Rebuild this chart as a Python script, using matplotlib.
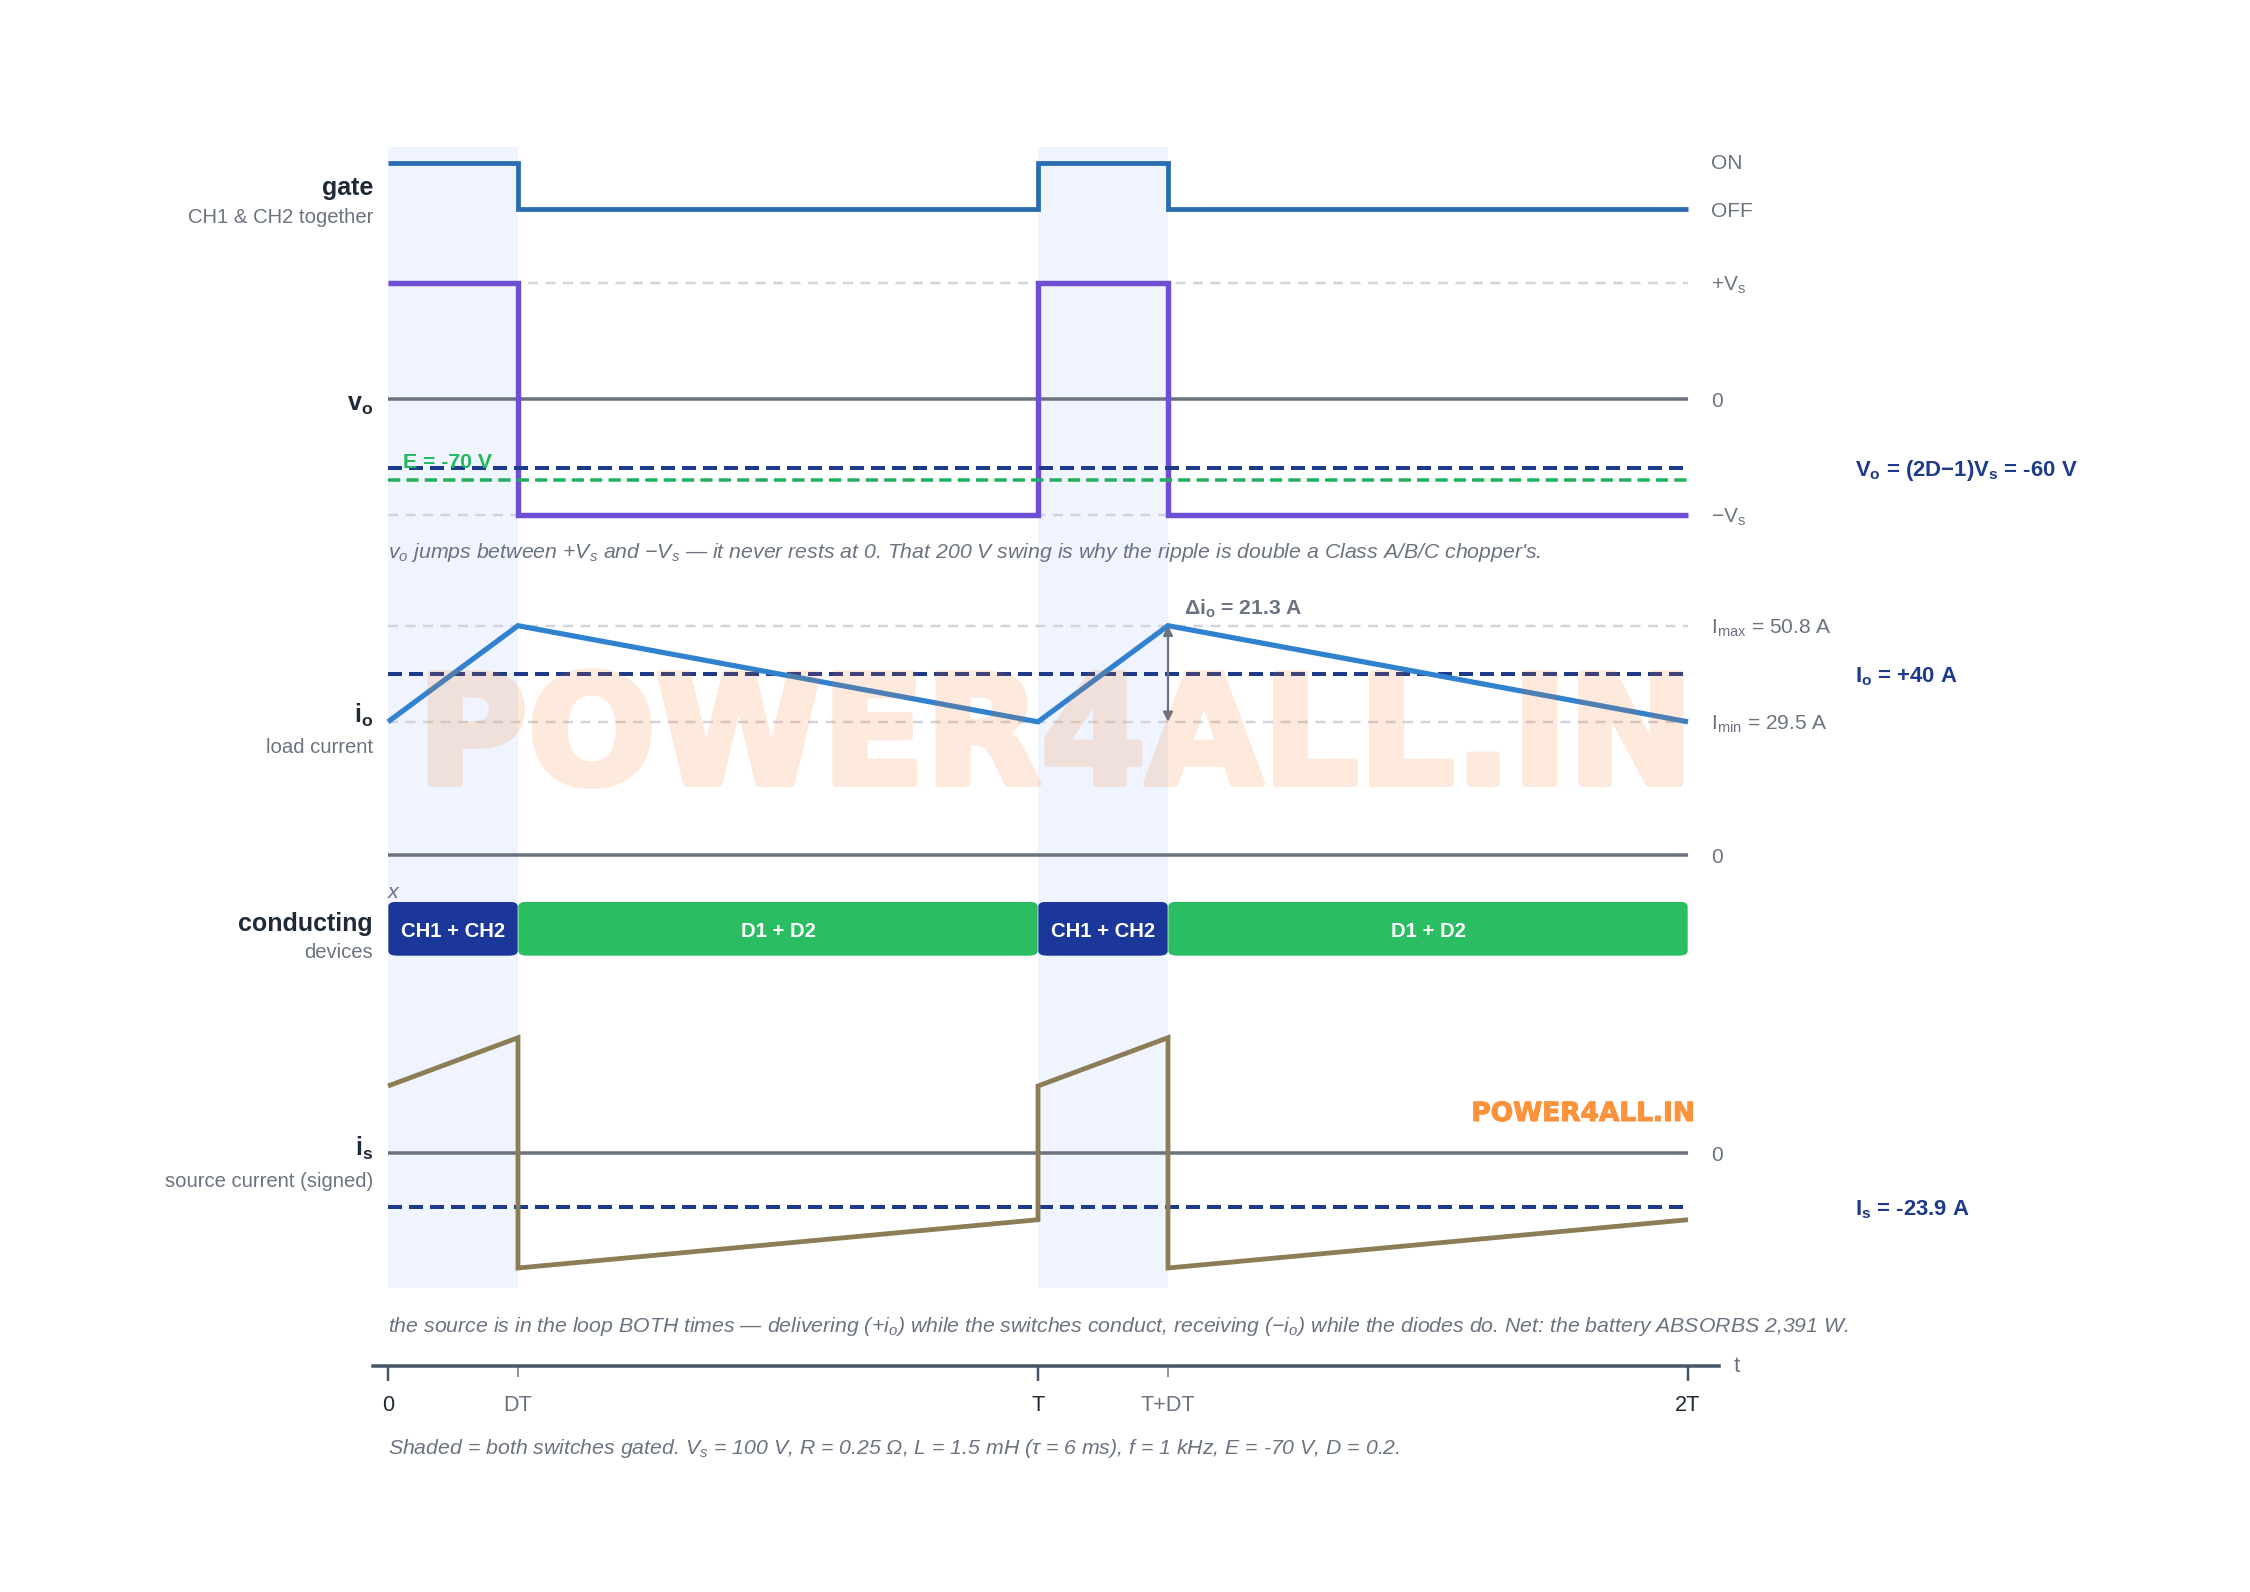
import matplotlib
matplotlib.use('Agg')
import matplotlib.pyplot as plt
import matplotlib.patheffects as pe
from matplotlib.patches import FancyBboxPatch
from matplotlib.transforms import blended_transform_factory, ScaledTranslation

plt.rcParams['font.family'] = ['Liberation Sans', 'DejaVu Sans']
plt.rcParams['mathtext.fontset'] = 'custom'
plt.rcParams['mathtext.default'] = 'regular'

# waveform data, time in units of T
t_edges = [0, 0.2, 0.2, 1, 1, 1.2, 1.2, 2]
gate = [1, 1, 0, 0, 1, 1, 0, 0]
v_o = [100, 100, -100, -100, 100, 100, -100, -100]
t_ramp = [0, 0.2, 1, 1.2, 2]
i_o = [29.5, 50.8, 29.5, 50.8, 29.5]
i_s = [29.5, 50.8, -50.8, -29.5, 29.5, 50.8, -50.8, -29.5]
shade_spans = [(0, 0.2), (1, 1.2)]
V_avg = -60
E_batt = -70
I_o_avg = 40
I_max = 50.8
I_min = 29.5
I_s_avg = -23.9
dev_start = [0, 0.2, 1, 1.2]
dev_end = [0.2, 1, 1.2, 2]
dev_names = ['CH1 + CH2', 'D1 + D2', 'CH1 + CH2', 'D1 + D2']
major_pos = [0, 1, 2]
major_labels = ['0', 'T', '2T']
minor_pos = [0.2, 1.2]
minor_labels = ['DT', 'T+DT']

W, H = 2250, 1592
GREY = '#6b7280'
LIGHT = '#d1d5db'
NAVY = '#1e3a8a'
INK = '#1f2937'
PX = 0.72  # points per pixel at dpi 100
DASH = (3.5, 1.75)
LIGHT_DASH = (4, 3)

fig = plt.figure(figsize=(W / 100, H / 100), dpi=100, facecolor='white')


def panel(top, bottom, ylim, left=388, right=1688, xlim=(0, 2)):
    ax = fig.add_axes([left / W, 1 - bottom / H, (right - left) / W, (bottom - top) / H])
    ax.set_xlim(xlim)
    ax.set_ylim(ylim)
    ax.axis('off')
    return ax


def ftext(x, y, s, **kw):
    kw.setdefault('va', 'center')
    return fig.text(x / W, 1 - y / H, s, **kw)


def side(ax, x, y, s, **kw):
    tr = blended_transform_factory(fig.transFigure, ax.transData)
    tr = tr + ScaledTranslation(0, -2.5 / 100, fig.dpi_scale_trans)
    kw.setdefault('va', 'center')
    return ax.text(x / W, y, s, transform=tr, clip_on=False, **kw)


def wave(ax, x, y, color, lw=4.8, z=3):
    ax.plot(x, y, color=color, lw=lw * PX, solid_capstyle='butt', solid_joinstyle='miter',
            clip_on=False, zorder=z)


def hline(ax, y, color, lw=4, dashed=True, z=2, dash=DASH):
    line, = ax.plot([0, 2], [y, y], color=color, lw=lw * PX, clip_on=False, zorder=z)
    if dashed:
        line.set_linestyle((0, dash))
        line.set_dash_capstyle('butt')
    else:
        line.set_solid_capstyle('butt')


# shaded gate-on windows
ax_bg = panel(147.3, 1288, (0, 1))
for a, b in shade_spans:
    ax_bg.axvspan(a, b, color='#eff4fe', lw=0)

# gate
ax_gate = panel(162.7, 209, (0, 1))
wave(ax_gate, t_edges, gate, '#2b6cb0')
side(ax_gate, 1711, 1.03, 'ON', color=GREY, fontsize=15)
side(ax_gate, 1711, 0, 'OFF', color=GREY, fontsize=15)

# output voltage
ax_vo = panel(282.7, 514.7, (-100, 100))
hline(ax_vo, 100, LIGHT, lw=2.5, dash=LIGHT_DASH, z=1)
hline(ax_vo, -100, LIGHT, lw=2.5, dash=LIGHT_DASH, z=1)
hline(ax_vo, 0, GREY, lw=3.5, dashed=False, z=1)
wave(ax_vo, t_edges, v_o, '#6f4ed6', lw=5.4)
hline(ax_vo, V_avg, NAVY, z=4)
hline(ax_vo, E_batt, '#22b05e', lw=3.5, z=4)
ax_vo.text(0.0231, -55, 'E = -70 V', color='#22b85c', fontsize=15.3, fontweight='bold', va='center', zorder=5)
side(ax_vo, 1711, 100, '+$V_s$', color=GREY, fontsize=15)
side(ax_vo, 1711, 0, '0', color=GREY, fontsize=15)
side(ax_vo, 1711, -100, '−$V_s$', color=GREY, fontsize=15)
side(ax_vo, 1855, V_avg, '$V_o$ = (2D−1)$V_s$ = -60 V', color=NAVY, fontsize=15.9, fontweight='bold')

# load current
ax_io = panel(625.7, 855, (0, 50.8))
hline(ax_io, I_max, LIGHT, lw=2.5, dash=LIGHT_DASH, z=1)
hline(ax_io, I_min, LIGHT, lw=2.5, dash=LIGHT_DASH, z=1)
hline(ax_io, 0, GREY, lw=3.5, dashed=False, z=1)
hline(ax_io, I_o_avg, NAVY, z=2)
wave(ax_io, t_ramp, i_o, '#3182ce', lw=5.2)
ax_io.annotate('', xy=(1.2, I_max), xytext=(1.2, I_min), zorder=5, annotation_clip=False,
               arrowprops=dict(arrowstyle='<|-|>', color=GREY, lw=1.6, shrinkA=0, shrinkB=0, mutation_scale=14))
side(ax_io, 1184, 55, 'Δ$i_o$ = 21.3 A', color=GREY, fontsize=15.2, fontweight='bold')
side(ax_io, 1711, I_max, '$I_{max}$ = 50.8 A', color=GREY, fontsize=15.1)
side(ax_io, 1711, I_min, '$I_{min}$ = 29.5 A', color=GREY, fontsize=15.1)
side(ax_io, 1711, 0, '0', color=GREY, fontsize=15)
side(ax_io, 1855, I_o_avg, '$I_o$ = +40 A', color=NAVY, fontsize=15.9, fontweight='bold')

# conducting devices
ax_dev = panel(901.7, 955.7, (0, 1))
for a, b, name in zip(dev_start, dev_end, dev_names):
    col = '#1a3799' if name.startswith('CH') else '#2bbd61'
    ax_dev.add_patch(FancyBboxPatch((a + 0.0005, 0), b - a - 0.001, 1, fc=col, ec='none',
                                    boxstyle='round,pad=0,rounding_size=0.014', mutation_aspect=6.0))
    ax_dev.text((a + b) / 2, 0.44, name, color='white', fontsize=14.6, fontweight='bold', ha='center', va='center')

# source current
ax_is = panel(1037.7, 1268, (-50.8, 50.8))
hline(ax_is, 0, GREY, lw=3.5, dashed=False, z=1)
hline(ax_is, I_s_avg, NAVY, z=2)
wave(ax_is, t_edges, i_s, '#8b7d55')
side(ax_is, 1711, 0, '0', color=GREY, fontsize=15)
side(ax_is, 1855, I_s_avg, '$I_s$ = -23.9 A', color=NAVY, fontsize=15.9, fontweight='bold')

# time axis
ax_t = fig.add_axes([373 / W, 1 - 1366 / H, (1719 - 373) / W, 1 / H])
ax_t.set_xlim((373 - 388) / 650, (1719 - 388) / 650)
ax_t.patch.set_visible(False)
ax_t.set_yticks([])
for s in ['top', 'left', 'right']:
    ax_t.spines[s].set_visible(False)
ax_t.spines['bottom'].set_color('#475569')
ax_t.spines['bottom'].set_linewidth(3.5 * PX)
ax_t.set_xticks(major_pos, major_labels, fontsize=15.6, color=INK)
ax_t.set_xticks(minor_pos, minor_labels, minor=True, fontsize=15.6, color=GREY)
ax_t.tick_params(axis='x', which='major', length=15 * PX, width=2.5 * PX, color='#475569', pad=10)
ax_t.tick_params(axis='x', which='minor', length=11 * PX, width=1.5 * PX, color=GREY, pad=13)
ftext(1738 - 4, 1367, 't', color=GREY, fontsize=16)

# row titles
ftext(373, 188.5, 'gate', ha='right', color=INK, fontsize=18, fontweight='bold')
ftext(373, 217.5, 'CH1 & CH2 together', ha='right', color=GREY, fontsize=14.6)
ftext(373, 405.5, '$v_o$', ha='right', color=INK, fontsize=18, fontweight='bold')
ftext(373, 715, '$i_o$', ha='right', color=INK, fontsize=18, fontweight='bold')
ftext(373, 747.5, 'load current', ha='right', color=GREY, fontsize=14.6)
ftext(373, 923.5, 'conducting', ha='right', color=INK, fontsize=18, fontweight='bold')
ftext(373, 952.5, 'devices', ha='right', color=GREY, fontsize=14.6)
ftext(373, 1148.5, '$i_s$', ha='right', color=INK, fontsize=18, fontweight='bold')
ftext(373, 1181.5, 'source current (signed)', ha='right', color=GREY, fontsize=14.6)

# notes
note = dict(color=GREY, fontsize=15.3, style='italic')
ftext(388, 552, "$v_o$ jumps between +$V_s$ and −$V_s$ — it never rests at 0. That 200 V swing is why the ripple is double a Class A/B/C chopper's.", **note)
ftext(388, 1326, 'the source is in the loop BOTH times — delivering (+$i_o$) while the switches conduct, receiving (−$i_o$) while the diodes do. Net: the battery ABSORBS 2,391 W.', **note)
ftext(388, 1449, 'Shaded = both switches gated. $V_s$ = 100 V, R = 0.25 Ω, L = 1.5 mH (τ = 6 ms), f = 1 kHz, E = -70 V, D = 0.2.', **note)
ftext(388, 892, 'x', **note)


def fade(img, dpi):
    img = img.copy()
    img[..., 3] *= 0.15
    return img, 0, 0


# watermarks
wm = ftext(1056, 742, 'POWER4ALL.IN', ha='center', color='#f97316', fontsize=108.5, fontweight='bold', zorder=10,
           family='DejaVu Sans', path_effects=[pe.withStroke(linewidth=5, foreground='#f97316')])
wm.set_agg_filter(fade)
ftext(1583, 1114, 'POWER4ALL.IN', ha='center', color='#fb923c', fontsize=19, fontweight='bold', zorder=10,
      family='DejaVu Sans', path_effects=[pe.withStroke(linewidth=0.8, foreground='#fb923c')])

fig.savefig('out.png', dpi=100, facecolor='white')
